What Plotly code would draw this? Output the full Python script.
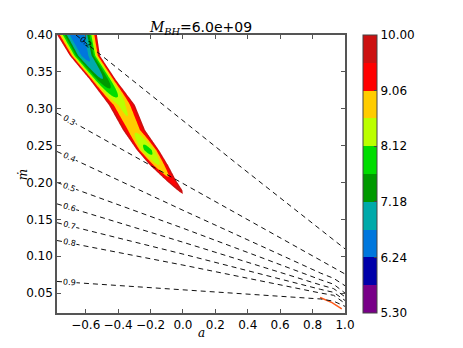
import numpy as np
import plotly.graph_objects as go

# colour levels (contourf bins) and their colours
levels_start = 5.30
levels_end = 10.00
levels_step = 0.47
bin_colors = ['#780088', '#0000aa', '#0077dd', '#00aaaa', '#009900',
              '#00dd00', '#bbff00', '#ffcc00', '#ff0000', '#cc1111']
cbar_ticks = [5.30, 6.24, 7.18, 8.12, 9.06, 10.00]

# filled band: centre line, half width (in a) and core value
band_mdot = [0.421, 0.4005, 0.372, 0.3393, 0.3052, 0.2711, 0.2439, 0.2235, 0.2030, 0.1894, 0.1839]
band_a = [-0.747, -0.654, -0.605, -0.494, -0.377, -0.302, -0.216, -0.148, -0.074, -0.0185, 0.0]
band_halfw = [0.136, 0.123, 0.093, 0.080, 0.080, 0.068, 0.068, 0.056, 0.031, 0.015, 0.0]
band_core = [6.2, 6.25, 6.55, 7.2, 8.5, 8.7, 7.9, 8.6, 9.2, 9.7, 10.0]

# small red sliver near a=1
sliver_a = [0.846, 0.92, 0.98]
sliver_mdot = [0.044, 0.037, 0.0287]

# dashed contour lines and their labels
line_labels = ['0.2', '0.3', '0.4', '0.5', '0.6', '0.7', '0.8', '0.9']
line_a = [
    [-0.66, -0.125, 0.331, 1.0],
    [-0.777, 0.0, 0.85, 0.93, 1.0],
    [-0.777, 0.0, 0.85, 0.93, 1.0],
    [-0.777, 0.0, 0.85, 0.93, 1.0],
    [-0.777, 0.0, 0.85, 0.93, 1.0],
    [-0.777, 0.0, 0.85, 0.93, 1.0],
    [-0.777, 0.0, 0.85, 0.93, 1.0],
    [-0.777, 0.0, 0.85, 0.93, 1.0],
]
line_mdot = [
    [0.400, 0.3052, 0.2257, 0.110],
    [0.294, 0.1985, 0.094, 0.085, 0.0759],
    [0.242, 0.1623, 0.077, 0.070, 0.060],
    [0.200, 0.138, 0.068, 0.062, 0.050],
    [0.171, 0.119, 0.061, 0.056, 0.045],
    [0.1454, 0.1029, 0.055, 0.051, 0.040],
    [0.1213, 0.088, 0.050, 0.047, 0.036],
    [0.0658, 0.0549, 0.042, 0.039, 0.032],
]
label_a = [-0.60, -0.70, -0.70, -0.70, -0.70, -0.70, -0.70, -0.70]

xr = [-0.777, 1.0]
yr = [0.023, 0.40]

# build the field on a grid from the band description
ag = np.linspace(-0.78, 1.0, 500)
mg = np.linspace(0.02, 0.425, 420)
A, M = np.meshgrid(ag, mg)
bm = np.array(band_mdot)[::-1]
ca = np.interp(M, bm, np.array(band_a)[::-1])
hw = np.interp(M, bm, np.array(band_halfw)[::-1])
core = np.interp(M, bm, np.array(band_core)[::-1])
inside = (hw > 0) & (M >= bm[0])
d = np.abs(A - ca) / np.where(hw > 0, hw, 1.0)
z = np.where(inside, core + (levels_end - core) * d ** 2.1, 12.0)
z = np.clip(z, 0, 12.0)

# contour fill colours: background, 10 bins, white above the top level
n = len(bin_colors) + 1
cs_fill = [[0.0, bin_colors[0]]]
for k, c in enumerate(bin_colors):
    cs_fill.append([(k + 1) / n, c])
cs_fill.append([1.0, 'white'])

cs_bar = []
for k, c in enumerate(bin_colors):
    cs_bar.append([k / 10, c])
    cs_bar.append([(k + 1) / 10, c])

fig = go.Figure()
fig.add_trace(go.Contour(
    x=ag, y=mg, z=z,
    autocontour=False,
    contours=dict(start=levels_start, end=levels_end, size=levels_step,
                  coloring='fill', showlines=False),
    line=dict(width=0),
    colorscale=cs_fill,
    showscale=False,
    hoverinfo='skip',
))

fig.add_trace(go.Scatter(
    x=sliver_a, y=sliver_mdot, mode='lines',
    line=dict(color='#ff5a1a', width=1.5), hoverinfo='skip', showlegend=False))

# plot pixel scale, used to turn line slopes into label angles
px_per_a = 288 / (xr[1] - xr[0])
px_per_m = 278 / (yr[1] - yr[0])

for i, (lab, la, lm, xa) in enumerate(zip(line_labels, line_a, line_mdot, label_a)):
    fig.add_trace(go.Scatter(
        x=la, y=lm, mode='lines',
        line=dict(color='#111', width=1, dash='5px,4px'),
        hoverinfo='skip', showlegend=False))
    slope = (lm[1] - lm[0]) / (la[1] - la[0])
    ang = np.degrees(np.arctan(-slope * px_per_m / px_per_a))
    fig.add_annotation(
        x=xa, y=float(np.interp(xa, la, lm)), xref='x', yref='y',
        text=lab, showarrow=False, textangle=ang,
        font=dict(family='DejaVu Sans', size=8, color='black'),
        bgcolor='rgba(0,0,0,0)' if i == 0 else 'white', borderpad=0)

# colour bar from a hidden marker
fig.add_trace(go.Scatter(
    x=[-0.5], y=[0.3], mode='markers',
    marker=dict(color=[levels_start], cmin=levels_start, cmax=levels_end,
                colorscale=cs_bar, opacity=0, showscale=True,
                colorbar=dict(
                    x=(363 - 57) / 288, xanchor='left', xpad=0,
                    y=0.5, yanchor='middle', ypad=0, len=1, lenmode='fraction',
                    thickness=14, outlinewidth=1, outlinecolor='#444',
                    tickvals=cbar_ticks,
                    ticktext=[f'{v:.2f}' for v in cbar_ticks],
                    ticks='inside', ticklen=3, tickcolor='#444',
                    tickfont=dict(family='DejaVu Sans', size=12, color='black'))),
    hoverinfo='skip', showlegend=False))

axis_common = dict(showgrid=False, zeroline=False, showline=True,
                   linecolor='#555', linewidth=1.5, mirror='ticks',
                   ticks='inside', ticklen=4, tickcolor='#555',
                   tickfont=dict(family='DejaVu Sans', size=12, color='black'))

fig.update_xaxes(range=xr, dtick=0.2, tick0=0, tickformat='.1f', **axis_common)
fig.update_yaxes(range=yr, dtick=0.05, tick0=0, tickformat='.2f', **axis_common)

fig.add_annotation(x=0.5, y=-0.072, xref='paper', yref='paper', text='<i>a</i>',
                   showarrow=False, yanchor='middle',
                   font=dict(family='DejaVu Serif', size=12, color='black'))
fig.add_annotation(x=-0.149, y=0.496, xref='paper', yref='paper', text='<i>ṁ</i>',
                   showarrow=False, textangle=-90,
                   font=dict(family='DejaVu Serif', size=12, color='black'))

# the page body has an 8px margin, so the figure is drawn 8px in from the corner
fig.update_layout(
    width=447, height=332,
    margin=dict(l=49, r=110, t=27, b=27, autoexpand=False),
    plot_bgcolor='white', paper_bgcolor='white',
    showlegend=False,
    title=dict(
        text='<span style="font-family:DejaVu Serif"><i>M</i><sub><i>BH</i></sub></span>=6.0e+09',
        x=0.5, xref='paper', xanchor='center',
        y=1 - 24 / 332, yref='container', yanchor='bottom',
        font=dict(family='DejaVu Sans', size=14, color='black')),
)

fig.write_html("out.html")
